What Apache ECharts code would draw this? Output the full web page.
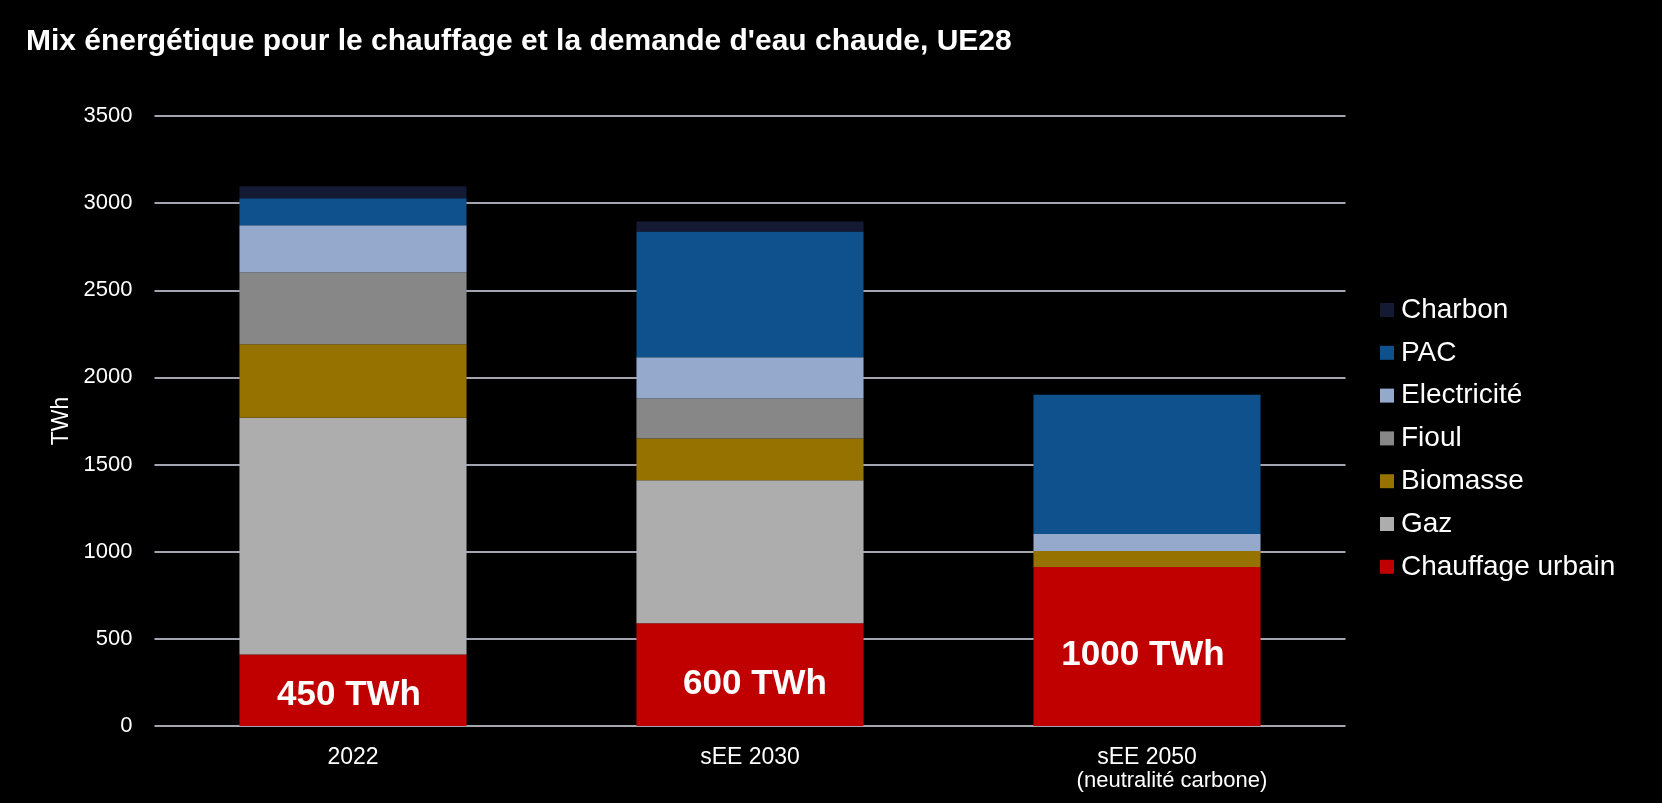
<!DOCTYPE html>
<html>
<head>
<meta charset="utf-8">
<script src="https://cdn.jsdelivr.net/npm/echarts@6/dist/echarts.min.js"></script>
<style>
html,body{margin:0;padding:0;background:#000;}
#chart{width:1662px;height:803px;}
</style>
</head>
<body>
<div id="chart"></div>
<script>
const titleText = "Mix énergétique pour le chauffage et la demande d'eau chaude, UE28";
const categories = ['2022', 'sEE 2030', 'sEE 2050'];
const categorySubtitles = ['', '', '(neutralité carbone)'];
const yTicks = [0, 500, 1000, 1500, 2000, 2500, 3000, 3500];
const yAxisName = 'TWh';

const chauffageUrbain = [410, 590, 912];
const gaz = [1358, 820, 0];
const biomasse = [422, 240, 92];
const fioul = [413, 229, 0];
const electricite = [270, 237, 98];
const pac = [155, 721, 798];
const charbon = [69, 58, 0];
const barLabels = ['450 TWh', '600 TWh', '1000 TWh'];

const seriesNames = ['Chauffage urbain', 'Gaz', 'Biomasse', 'Fioul', 'Electricité', 'PAC', 'Charbon'];
const seriesValues = [chauffageUrbain, gaz, biomasse, fioul, electricite, pac, charbon];
const seriesColors = ['#c00000', '#adadad', '#967200', '#878787', '#94a9cb', '#0f518c', '#141a33'];

const FONT = "'Liberation Sans', Arial, sans-serif";
const labelDist = [13, 24, 53];
const labelDx = [-4, 5, -4];

const series = seriesNames.map((name, si) => {
  const s = {
    name: name,
    type: 'bar',
    stack: 'total',
    barCategoryGap: '42.8%',
    itemStyle: { color: seriesColors[si] },
    emphasis: { disabled: true },
    data: seriesValues[si].map(v => v)
  };
  if (si === 0) {
    s.data = seriesValues[si].map((v, i) => ({
      value: v,
      label: {
        show: true,
        position: 'insideBottom',
        distance: labelDist[i],
        offset: [labelDx[i], 0],
        formatter: barLabels[i],
        color: '#fff',
        fontSize: 35,
        fontWeight: 'bold',
        fontFamily: FONT
      }
    }));
  }
  return s;
});

const chart = echarts.init(document.getElementById('chart'));
chart.setOption({
  backgroundColor: '#000',
  animation: false,
  title: {
    text: titleText,
    left: 21,
    top: 22,
    textStyle: { color: '#fff', fontSize: 30, fontWeight: 'bold', fontFamily: FONT }
  },
  legend: {
    orient: 'vertical',
    left: 1380,
    top: 295,
    padding: 0,
    itemWidth: 14,
    itemHeight: 14,
    itemGap: 12.8,
    icon: 'rect',
    data: seriesNames.slice().reverse(),
    textStyle: { color: '#fff', fontSize: 28, lineHeight: 30, fontFamily: FONT, padding: [0, 0, 0, 2] }
  },
  grid: { left: 154.5, right: 316.5, top: 116, bottom: 77, containLabel: false },
  xAxis: {
    type: 'category',
    data: categories,
    axisLine: { show: false },
    axisTick: { show: false },
    axisLabel: {
      margin: 20,
      interval: 0,
      formatter: (v, i) => categorySubtitles[i] ? '{a|' + v + '}\n{b|' + categorySubtitles[i] + '}' : '{a|' + v + '}',
      rich: {
        a: { color: '#fff', fontSize: 23, lineHeight: 23, fontFamily: FONT },
        b: { color: '#fff', fontSize: 22, lineHeight: 23, fontFamily: FONT, padding: [0, 0, 0, 50] }
      }
    }
  },
  yAxis: {
    type: 'value',
    min: yTicks[0],
    max: yTicks[yTicks.length - 1],
    interval: yTicks[1] - yTicks[0],
    name: yAxisName,
    nameLocation: 'middle',
    nameGap: 80,
    nameTextStyle: { color: '#fff', fontSize: 23, fontFamily: FONT },
    axisLine: { show: false },
    axisTick: { show: false },
    axisLabel: { color: '#fff', fontSize: 22, margin: 22, fontFamily: FONT, formatter: v => String(v) },
    splitLine: { lineStyle: { color: '#d9dbeb', width: 1.5 } }
  },
  series: series
});
</script>
</body>
</html>
